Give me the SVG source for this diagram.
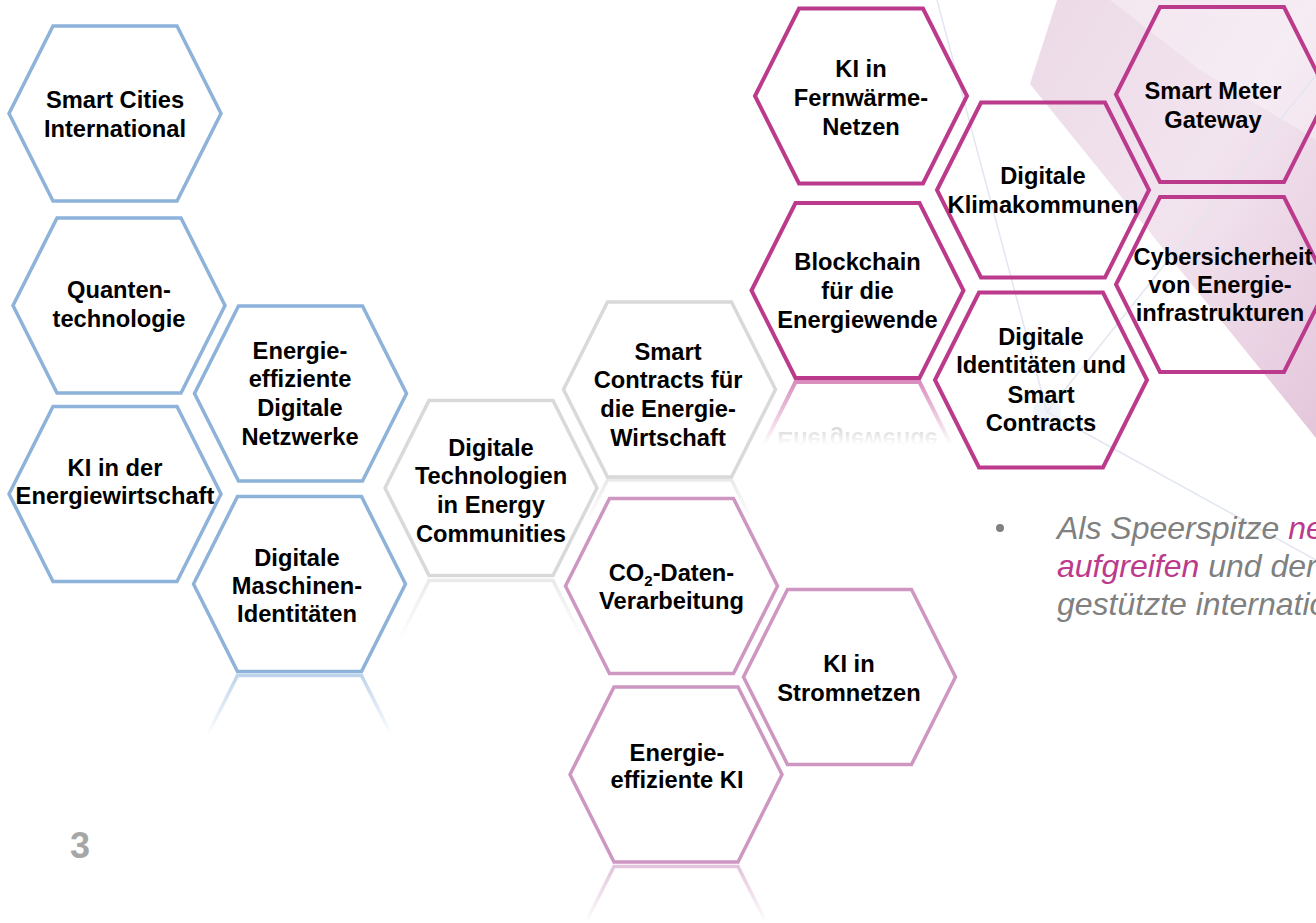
<svg xmlns="http://www.w3.org/2000/svg" width="1316" height="923" viewBox="0 0 1316 923">
<style>
.hx{fill:none;stroke-width:3.5;stroke-linejoin:miter}
.blue{stroke:#8DB3DA}
.gray{stroke:#D9D9D9}
.pink{stroke:#CD97C2}
.mag{stroke:#BC3A8C;stroke-width:4}
.lbl{font-family:"Liberation Sans",Arial,sans-serif;font-weight:bold;font-size:23.7px;fill:#000;text-anchor:middle}
.it{font-family:"Liberation Sans",Arial,sans-serif;font-style:italic;font-size:32px;fill:#808080}
.hl{fill:#BC3A8C}
.bgline{stroke:#E2E6F0;stroke-width:1.5;fill:none}
</style>
<defs>
<path id="hex" d="M-106,0 L-62,-87.5 L62,-87.5 L106,0 L62,87.5 L-62,87.5 Z"/>
<linearGradient id="fade" x1="0" y1="0" x2="0" y2="1">
<stop offset="0" stop-color="#fff" stop-opacity="0.6"/>
<stop offset="1" stop-color="#fff" stop-opacity="0"/>
</linearGradient>
<linearGradient id="swoosh" x1="0" y1="0" x2="1" y2="1">
<stop offset="0" stop-color="#ECDAE7"/>
<stop offset="0.5" stop-color="#F2E4EF"/>
<stop offset="1" stop-color="#E4C6DB"/>
</linearGradient>
<mask id="m-blue" maskUnits="userSpaceOnUse" x="170" y="672" width="260" height="64"><rect x="170" y="672" width="260" height="64" fill="url(#fade)"/></mask>
<mask id="m-gray1" maskUnits="userSpaceOnUse" x="370" y="576" width="250" height="64"><rect x="370" y="576" width="250" height="64" fill="url(#fade)"/></mask>
<mask id="m-gray2" maskUnits="userSpaceOnUse" x="540" y="477" width="260" height="45"><rect x="540" y="477" width="260" height="45" fill="url(#fade)"/></mask>
<mask id="m-mag" maskUnits="userSpaceOnUse" x="730" y="379" width="250" height="66"><rect x="730" y="379" width="250" height="66" fill="url(#fade)"/></mask>
<mask id="m-pink" maskUnits="userSpaceOnUse" x="550" y="863" width="250" height="60"><rect x="550" y="863" width="250" height="60" fill="url(#fade)"/></mask>
</defs>

<g id="background">
<polygon points="1057,0 1316,0 1316,438 1030,84" fill="url(#swoosh)"/>
<polygon points="1110,0 1316,0 1316,140 1200,70" fill="#fff" opacity="0.3"/>
<line class="bgline" x1="937" y1="0" x2="1047" y2="412"/>
<line class="bgline" x1="1047" y1="412" x2="1316" y2="75"/>
<line class="bgline" x1="1047" y1="412" x2="1316" y2="560"/>
<circle cx="1047" cy="412" r="14" fill="#E8ECF5" opacity="0.6"/>
</g>

<g id="reflections">
<g mask="url(#m-blue)"><use href="#hex" class="hx blue" x="299.5" y="763"/></g>
<g mask="url(#m-gray1)"><use href="#hex" class="hx gray" x="491" y="668"/></g>
<g mask="url(#m-gray2)"><use href="#hex" class="hx gray" x="669.5" y="567.5"/></g>
<g mask="url(#m-mag)"><use href="#hex" class="hx mag" x="857.5" y="469.5"/>
<text class="lbl" x="857.5" y="328" transform="translate(0,760) scale(1,-1)">Energiewende</text></g>
<g mask="url(#m-pink)"><use href="#hex" class="hx pink" x="676" y="954"/></g>
</g>

<g id="connectors"></g>

<g id="n-smart-cities"><use href="#hex" class="hx blue" x="115" y="113.5"/>
<text class="lbl"><tspan x="115" y="108">Smart Cities</tspan><tspan x="115" y="137">International</tspan></text></g>

<g id="n-quanten"><use href="#hex" class="hx blue" x="119" y="305.5"/>
<text class="lbl"><tspan x="119" y="298">Quanten-</tspan><tspan x="119" y="327">technologie</tspan></text></g>

<g id="n-netzwerke"><use href="#hex" class="hx blue" x="300.5" y="393.5"/>
<text class="lbl"><tspan x="300" y="359">Energie-</tspan><tspan x="300" y="387">effiziente</tspan><tspan x="300" y="416">Digitale</tspan><tspan x="300" y="445">Netzwerke</tspan></text></g>

<g id="n-ki-energiewirtschaft"><use href="#hex" class="hx blue" x="115" y="494"/>
<text class="lbl"><tspan x="115" y="476">KI in der</tspan><tspan x="115" y="504">Energiewirtschaft</tspan></text></g>

<g id="n-maschinen"><use href="#hex" class="hx blue" x="299.5" y="584"/>
<text class="lbl"><tspan x="297" y="566">Digitale</tspan><tspan x="297" y="594">Maschinen-</tspan><tspan x="297" y="622">Identitäten</tspan></text></g>

<g id="n-energy-communities"><use href="#hex" class="hx gray" x="491" y="488"/>
<text class="lbl"><tspan x="491" y="456">Digitale</tspan><tspan x="491" y="484">Technologien</tspan><tspan x="491" y="513">in Energy</tspan><tspan x="491" y="542">Communities</tspan></text></g>

<g id="n-smart-contracts"><use href="#hex" class="hx gray" x="669.5" y="389.5"/>
<text class="lbl"><tspan x="668" y="360">Smart</tspan><tspan x="668" y="388">Contracts für</tspan><tspan x="668" y="417">die Energie-</tspan><tspan x="668" y="446">Wirtschaft</tspan></text></g>

<g id="n-co2"><use href="#hex" class="hx pink" x="671.5" y="586"/>
<text class="lbl"><tspan x="671.5" y="581">CO<tspan font-size="15" dy="5">2</tspan><tspan dy="-5">-Daten-</tspan></tspan><tspan x="671.5" y="609">Verarbeitung</tspan></text></g>

<g id="n-ki-stromnetze"><use href="#hex" class="hx pink" x="849.5" y="677"/>
<text class="lbl"><tspan x="849" y="672">KI in</tspan><tspan x="849" y="701">Stromnetzen</tspan></text></g>

<g id="n-energieeffiziente-ki"><use href="#hex" class="hx pink" x="676" y="774.5"/>
<text class="lbl"><tspan x="677" y="761">Energie-</tspan><tspan x="677" y="788">effiziente KI</tspan></text></g>

<g id="n-fernwaerme"><use href="#hex" class="hx mag" x="861" y="96"/>
<text class="lbl"><tspan x="861" y="77">KI in</tspan><tspan x="861" y="106">Fernwärme-</tspan><tspan x="861" y="135">Netzen</tspan></text></g>

<g id="n-klimakommunen"><use href="#hex" class="hx mag" x="1043" y="190"/>
<text class="lbl"><tspan x="1043" y="184">Digitale</tspan><tspan x="1043" y="213">Klimakommunen</tspan></text></g>

<g id="n-smart-meter"><use href="#hex" class="hx mag" x="1222" y="94.5"/>
<text class="lbl"><tspan x="1213" y="99">Smart Meter</tspan><tspan x="1213" y="128">Gateway</tspan></text></g>

<g id="n-cyber"><use href="#hex" class="hx mag" x="1222" y="284.5"/>
<text class="lbl"><tspan x="1223" y="265">Cybersicherheit</tspan><tspan x="1220" y="293">von Energie-</tspan><tspan x="1220" y="321">infrastrukturen</tspan></text></g>

<g id="n-blockchain"><use href="#hex" class="hx mag" x="857.5" y="290.5"/>
<text class="lbl"><tspan x="857.5" y="270">Blockchain</tspan><tspan x="857.5" y="299">für die</tspan><tspan x="857.5" y="328">Energiewende</tspan></text></g>

<g id="n-identitaeten"><use href="#hex" class="hx mag" x="1041" y="380"/>
<text class="lbl"><tspan x="1041" y="345">Digitale</tspan><tspan x="1041" y="373">Identitäten und</tspan><tspan x="1041" y="403">Smart</tspan><tspan x="1041" y="431">Contracts</tspan></text></g>

<g id="bullet-text">
<circle cx="1000" cy="528" r="4" fill="#808080"/>
<text class="it" x="1057" y="539">Als Speerspitze <tspan class="hl">ne</tspan></text>
<text class="it" x="1057" y="577"><tspan class="hl">aufgreifen</tspan> und der</text>
<text class="it" x="1057" y="615">gestützte internatio</text>
</g>

<text id="page-number" x="70" y="858" font-family="Liberation Sans, Arial, sans-serif" font-weight="bold" font-size="36" fill="#A6A6A6">3</text>
</svg>
